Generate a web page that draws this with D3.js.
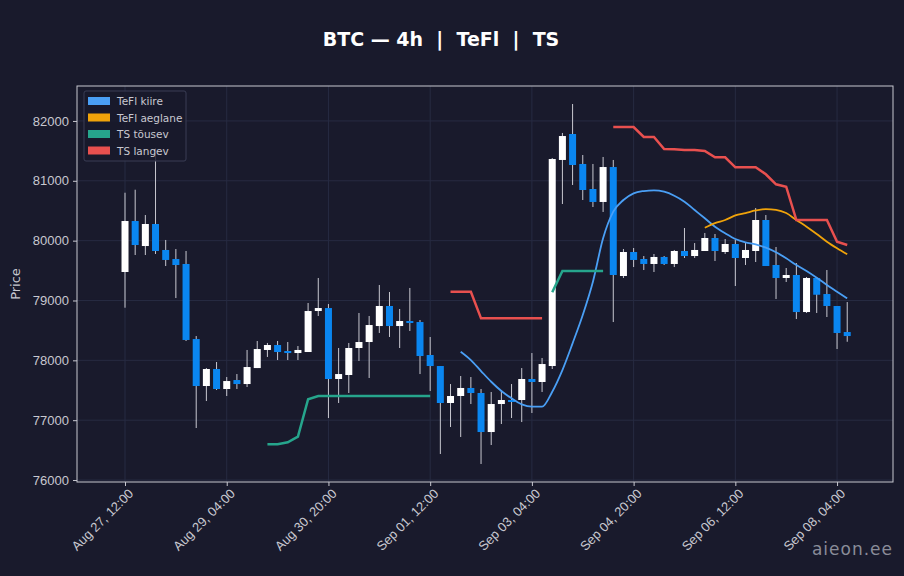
<!DOCTYPE html>
<html>
<head>
<meta charset="utf-8">
<script src="https://cdn.jsdelivr.net/npm/d3@7"></script>
<style>
  body { margin: 0; background: #191a2c; }
  svg { display: block; font-family: "DejaVu Sans", sans-serif; }
</style>
</head>
<body>
<svg id="chart" width="904" height="576"></svg>
<script>
// 4h candles, first one Aug 27 12:00 UTC
var startTime = Date.UTC(2025, 7, 27, 12, 0)

var open  = [79476,80328,79910,80278,79844,79693,79610,78356,77571,77855,77521,77671,77604,77871,78173,78256,78156,78122,78139,78824,78874,77688,77755,78206,78306,78573,78908,78573,78657,78640,78089,77905,77287,77404,77538,77454,76802,77270,77337,77337,77688,77638,77905,81348,81782,81281,80863,80646,81230,79409,79810,79693,79610,79727,79610,79827,79743,79827,80044,79810,79944,79710,79827,80345,79593,79376,79426,78807,79376,79108,78908,78473]
var high  = [80801,80851,80428,81548,80011,79860,79827,78406,77871,77972,77721,77771,78173,78323,78290,78323,78306,78239,78958,79376,78941,78206,78290,78791,78741,79259,79142,78858,79209,78674,78390,77905,77604,77738,77721,77521,77471,77504,77604,77871,78122,78039,81381,81799,82283,81431,81281,81398,81348,79860,79877,79743,79777,79743,79844,80211,79960,80128,80111,80027,80011,79960,80545,80428,79894,79543,79626,79392,79392,79509,78908,78974]
var low   = [78879,79760,79760,79777,79576,79041,78323,76869,77320,77504,77404,77521,77554,77871,78056,78005,78005,78005,78139,78741,77036,77287,77454,77989,77705,78457,78390,78206,78490,77771,77487,76435,76886,76719,77270,76268,76585,76936,77036,76969,77120,77471,77855,80612,80930,80679,80562,80479,78640,79376,79559,79509,79476,79593,79559,79710,79710,79827,79660,79777,79242,79593,79643,79576,79025,79309,78690,78791,78791,78724,78189,78310]
var close = [80328,79927,80278,79827,79677,79593,78340,77571,77855,77521,77654,77604,77888,78189,78256,78139,78122,78173,78824,78874,77688,77771,78206,78306,78590,78908,78573,78657,78624,78072,77905,77287,77404,77538,77454,76802,77270,77337,77304,77688,77638,77938,81364,81748,81264,80846,80646,81230,79426,79810,79677,79610,79727,79610,79827,79743,79844,80044,79827,79944,79710,79844,80345,79576,79376,79426,78807,79376,79096,78908,78457,78406]

// indicator lines: [candle index, value]
var tefiKiire = [[33,78144],[34,78005],[35,77821],[36,77642],[37,77487],[38,77365],[39,77265],[40,77225],[41,77225],[42,77476],[43,77838],[44,78284],[45,78757],[46,79314],[47,80039],[48,80484],[49,80679],[50,80791],[51,80829],[52,80841],[53,80818],[54,80751],[55,80651],[56,80512],[57,80373],[58,80233],[59,80123],[60,80027],[61,79972],[62,79939],[63,79882],[64,79805],[65,79705],[66,79593],[67,79493],[68,79381],[69,79259],[70,79147],[71,79036]]
var tefiAeglane = [[57,80215],[58,80293],[59,80345],[60,80421],[61,80461],[62,80504],[63,80527],[64,80515],[65,80461],[66,80345],[67,80233],[68,80111],[69,79982],[70,79872],[71,79772]]
var tsTousev = [
  [[14,76597],[15,76597],[16,76630],[17,76724],[18,77349],[19,77404],[20,77404],[21,77404],[22,77404],[23,77404],[24,77404],[25,77404],[26,77404],[27,77404],[28,77404],[29,77404],[30,77404]],
  [[42,79137],[43,79493],[44,79493],[45,79493],[46,79493],[47,79493]]
]
var tsLangev = [
  [[32,79147],[33,79147],[34,79147],[35,78702],[36,78702],[37,78702],[38,78702],[39,78702],[40,78702],[41,78702]],
  [[48,81899],[49,81899],[50,81899],[51,81732],[52,81732],[53,81531],[54,81526],[55,81515],[56,81515],[57,81498],[58,81393],[59,81393],[60,81226],[61,81226],[62,81226],[63,81109],[64,80941],[65,80901],[66,80345],[67,80345],[68,80345],[69,80345],[70,79982],[71,79927]]
]
var yTicks = [76000,77000,78000,79000,80000,81000,82000]
var xTickIdx = [0,10,20,30,40,50,60,70]
var legendItems = [["TeFl kiire","#4a9ff5"],["TeFl aeglane","#f0a30a"],["TS tõusev","#26a58c"],["TS langev","#e8504f"]]

var svg = d3.select("#chart")
var bg = "#191a2c"
var plot = {left: 77, right: 893, top: 86, bottom: 482}

var x = d3.scaleLinear().domain([-4.72, 75.5]).range([plot.left, plot.right])
var y = d3.scaleLinear().domain([75967, 82584]).range([plot.bottom, plot.top])
var fmt = d3.utcFormat("%b %d, %H:%M")
var timeOf = function(i){ return new Date(startTime + i*4*3600*1000) }

svg.append("rect").attr("width",904).attr("height",576).attr("fill",bg)

// grid
var g = svg.append("g")
g.selectAll("line.hg").data(yTicks).enter().append("line")
  .attr("x1",plot.left).attr("x2",plot.right)
  .attr("y1",d=>y(d)).attr("y2",d=>y(d))
  .attr("stroke","#272b42").attr("stroke-width",1)
g.selectAll("line.vg").data(xTickIdx).enter().append("line")
  .attr("x1",d=>x(d)).attr("x2",d=>x(d))
  .attr("y1",plot.top).attr("y2",plot.bottom)
  .attr("stroke","#272b42").attr("stroke-width",1)

// axes
var yAxis = svg.append("g").attr("transform","translate("+plot.left+",0)")
  .call(d3.axisLeft(y).tickValues(yTicks).tickFormat(d3.format("d")).tickSize(4).tickPadding(4))
var xAxis = svg.append("g").attr("transform","translate(0,"+plot.bottom+")")
  .call(d3.axisBottom(x).tickValues(xTickIdx).tickFormat(i=>fmt(timeOf(i))).tickSize(4))
;[yAxis,xAxis].forEach(function(a){
  a.select(".domain").remove()
  a.selectAll("line").attr("stroke","#c8c8d0")
  a.selectAll("text").attr("fill","#c8c8d0").attr("font-size",13)
})
xAxis.selectAll("text")
  .attr("text-anchor","end").attr("dx","-0.2em").attr("dy","0.6em")
  .attr("transform","rotate(-45)")

svg.append("rect").attr("x",plot.left).attr("y",plot.top)
  .attr("width",plot.right-plot.left).attr("height",plot.bottom-plot.top)
  .attr("fill","none").attr("stroke","#c8c8d0").attr("stroke-width",1)

// candles
var candles = d3.range(open.length).map(function(i){
  return {i:i, o:open[i], h:high[i], l:low[i], c:close[i]}
})
var cg = svg.append("g")
cg.selectAll("line.wick").data(candles).enter().append("line")
  .attr("x1",d=>x(d.i)).attr("x2",d=>x(d.i))
  .attr("y1",d=>y(d.h)).attr("y2",d=>y(d.l))
  .attr("stroke","#c8c8d0").attr("stroke-width",1)
cg.selectAll("rect.body").data(candles).enter().append("rect")
  .attr("x",d=>x(d.i)-3.5).attr("width",7)
  .attr("y",d=>y(Math.max(d.o,d.c)))
  .attr("height",d=>Math.max(2,Math.abs(y(d.o)-y(d.c))))
  .attr("fill",d=>d.c>=d.o ? "#ffffff" : "#0a86f0")

// lines
var line = d3.line().x(d=>x(d[0])).y(d=>y(d[1]))
var smooth = d3.line().x(d=>x(d[0])).y(d=>y(d[1])).curve(d3.curveMonotoneX)
svg.append("path").attr("d",smooth(tefiKiire)).attr("fill","none").attr("stroke","#4a9ff5").attr("stroke-width",1.8)
svg.append("path").attr("d",smooth(tefiAeglane)).attr("fill","none").attr("stroke","#f0a30a").attr("stroke-width",1.8)
tsTousev.forEach(function(seg){
  svg.append("path").attr("d",line(seg)).attr("fill","none").attr("stroke","#26a58c").attr("stroke-width",2.5)
})
tsLangev.forEach(function(seg){
  svg.append("path").attr("d",line(seg)).attr("fill","none").attr("stroke","#e8504f").attr("stroke-width",2.5)
})

// legend
var lg = svg.append("g").attr("transform","translate(84,91)")
lg.append("rect").attr("width",102).attr("height",70).attr("rx",2)
  .attr("fill",bg).attr("fill-opacity",0.85).attr("stroke","#3a3d55")
legendItems.forEach(function(it,k){
  var row = lg.append("g").attr("transform","translate(4,"+(4+k*16.5)+")")
  row.append("rect").attr("width",22).attr("height",8).attr("y",2).attr("fill",it[1])
  row.append("text").attr("x",29).attr("y",10).attr("fill","#c8c8d0").attr("font-size",10.5).text(it[0])
})

// titles
svg.append("text").attr("x",441).attr("y",46).attr("text-anchor","middle")
  .attr("fill","#ffffff").attr("font-size",19).attr("font-weight","bold")
  .attr("xml:space","preserve").text("BTC — 4h  |  TeFl  |  TS")
svg.append("text").attr("transform","translate(20,284) rotate(-90)").attr("text-anchor","middle")
  .attr("fill","#c8c8d0").attr("font-size",13).text("Price")
svg.append("text").attr("x",893).attr("y",555).attr("text-anchor","end")
  .attr("fill","#8a8c99").attr("font-size",17).attr("letter-spacing",1).text("aieon.ee")
</script>
</body>
</html>
